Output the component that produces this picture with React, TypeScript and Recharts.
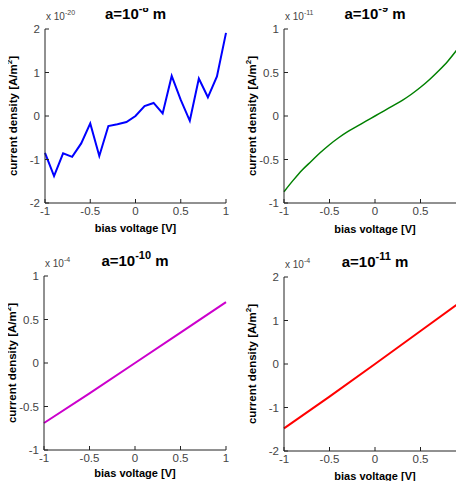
import { LineChart, Line, XAxis, YAxis } from "recharts";

// bias voltage [V]
const VOLT = [-1, -0.9, -0.8, -0.7, -0.6, -0.5, -0.4, -0.3, -0.2, -0.1, 0, 0.1, 0.2, 0.3, 0.4, 0.5, 0.6, 0.7, 0.8, 0.9, 1];
const VOLT_COARSE = [-1, -0.5, 0, 0.5, 1];

// current density mantissas (times the axis multiplier)
const J_A8 = [-0.85, -1.38, -0.86, -0.94, -0.63, -0.17, -0.92, -0.23, -0.19, -0.14, 0, 0.23, 0.3, 0.06, 0.92, 0.37, -0.11, 0.86, 0.43, 0.91, 1.91];
const J_A9 = [-0.87, -0.74, -0.62, -0.52, -0.42, -0.33, -0.25, -0.18, -0.12, -0.06, 0, 0.06, 0.12, 0.18, 0.25, 0.33, 0.42, 0.52, 0.63, 0.76, 0.9];
const J_A10 = [-0.69, -0.35, 0, 0.35, 0.7];
const J_A11 = [-1.48, -0.75, 0, 0.76, 1.52];

const X_TICKS = [-1, -0.5, 0, 0.5, 1];
const Y_TICKS_2 = [-2, -1, 0, 1, 2];
const Y_TICKS_1 = [-1, -0.5, 0, 0.5, 1];

const FONT = "'Liberation Sans', Arial, Helvetica, sans-serif";
const AXIS = "#222";
const TICK_TXT = "#444";

type Plot = { l: number; r: number; t: number; b: number };

type PanelProps = {
  x: number;
  y: number;
  w: number;
  h: number;
  plot: Plot;
  xs: number[];
  ys: number[];
  yTicks: number[];
  color: string;
  strokeWidth: number;
  curve: "linear" | "monotone";
  aExp: string;
  mulExp: string;
  xlabelGap: number;
};

function Panel({ x, y, w, h, plot, xs, ys, yTicks, color, strokeWidth, curve, aExp, mulExp, xlabelGap }: PanelProps) {
  const data = xs.map((v, i) => ({ v, j: ys[i] }));
  const tick = { fill: TICK_TXT, fontSize: 11.5, fontFamily: FONT };
  const cx = (plot.l + plot.r) / 2;
  const cy = (plot.t + plot.b) / 2;
  const dom: [number, number] = [yTicks[0], yTicks[yTicks.length - 1]];

  return (
    <div style={{ position: "absolute", left: x, top: y, width: w, height: h }}>
      <LineChart
        width={w}
        height={h}
        data={data}
        margin={{ top: plot.t, right: w - plot.r, bottom: 0, left: 0 }}
      >
        <XAxis
          xAxisId="b"
          dataKey="v"
          type="number"
          domain={[-1, 1]}
          ticks={X_TICKS}
          height={h - plot.b}
          tick={tick}
          tickSize={-4}
          tickMargin={8}
          stroke={AXIS}
          interval={0}
        />
        <XAxis
          xAxisId="t"
          orientation="top"
          dataKey="v"
          type="number"
          domain={[-1, 1]}
          ticks={X_TICKS}
          height={0}
          tick={false}
          tickSize={-4}
          stroke={AXIS}
        />
        <YAxis
          yAxisId="l"
          type="number"
          domain={dom}
          ticks={yTicks}
          width={plot.l}
          tick={tick}
          tickSize={-4}
          tickMargin={9}
          stroke={AXIS}
          interval={0}
        />
        <YAxis
          yAxisId="r"
          orientation="right"
          type="number"
          domain={dom}
          ticks={yTicks}
          width={0}
          tick={false}
          tickSize={-4}
          stroke={AXIS}
        />
        <Line
          xAxisId="b"
          yAxisId="l"
          dataKey="j"
          type={curve}
          stroke={color}
          strokeWidth={strokeWidth}
          dot={false}
          isAnimationActive={false}
        />
      </LineChart>
      <svg
        width={w}
        height={h}
        style={{ position: "absolute", left: 0, top: 0, pointerEvents: "none" }}
        fontFamily={FONT}
      >
        <text x={cx} y={plot.t - 10} textAnchor="middle" fontSize={15} fontWeight="bold" fill="#000">
          a=10
          <tspan dy={-7} fontSize={11}>{aExp}</tspan>
          <tspan dy={7} fontSize={15}> m</tspan>
        </text>
        <text x={plot.l + 1} y={plot.t - 9} fontSize={10} fill={TICK_TXT}>
          x 10
          <tspan dy={-5} fontSize={7}>{mulExp}</tspan>
        </text>
        <text
          x={plot.l - 31}
          y={cy}
          transform={`rotate(-90 ${plot.l - 31} ${cy})`}
          textAnchor="middle"
          dominantBaseline="middle"
          fontSize={11.5}
          fontWeight="bold"
          fill="#000"
        >
          current density [A/m
          <tspan dy={-4} fontSize={8}>2</tspan>
          <tspan dy={4}>]</tspan>
        </text>
        <text x={cx} y={plot.b + xlabelGap} textAnchor="middle" fontSize={11} fontWeight="bold" fill="#000">
          bias voltage [V]
        </text>
      </svg>
    </div>
  );
}

export default function App() {
  return (
    <div
      style={{
        position: "relative",
        width: 464,
        height: 489,
        overflow: "hidden",
        margin: -8,
        background: "#fff",
      }}
    >
      <Panel
        x={0}
        y={0}
        w={232}
        h={245}
        plot={{ l: 45, r: 226, t: 29, b: 203 }}
        xs={VOLT}
        ys={J_A8}
        yTicks={Y_TICKS_2}
        color="#0000ff"
        strokeWidth={2}
        curve="linear"
        aExp="-8"
        mulExp="-20"
        xlabelGap={29}
      />
      <Panel
        x={232}
        y={0}
        w={240}
        h={245}
        plot={{ l: 52, r: 234, t: 29, b: 203 }}
        xs={VOLT}
        ys={J_A9}
        yTicks={Y_TICKS_1}
        color="#008000"
        strokeWidth={1.5}
        curve="monotone"
        aExp="-9"
        mulExp="-11"
        xlabelGap={30}
      />
      <Panel
        x={0}
        y={245}
        w={232}
        h={244}
        plot={{ l: 44, r: 226, t: 31, b: 205 }}
        xs={VOLT_COARSE}
        ys={J_A10}
        yTicks={Y_TICKS_1}
        color="#cc00cc"
        strokeWidth={2}
        curve="linear"
        aExp="-10"
        mulExp="-4"
        xlabelGap={27}
      />
      <Panel
        x={232}
        y={245}
        w={240}
        h={244}
        plot={{ l: 52, r: 234, t: 32, b: 206 }}
        xs={VOLT_COARSE}
        ys={J_A11}
        yTicks={Y_TICKS_2}
        color="#ff0000"
        strokeWidth={2}
        curve="linear"
        aExp="-11"
        mulExp="-4"
        xlabelGap={29}
      />
    </div>
  );
}
